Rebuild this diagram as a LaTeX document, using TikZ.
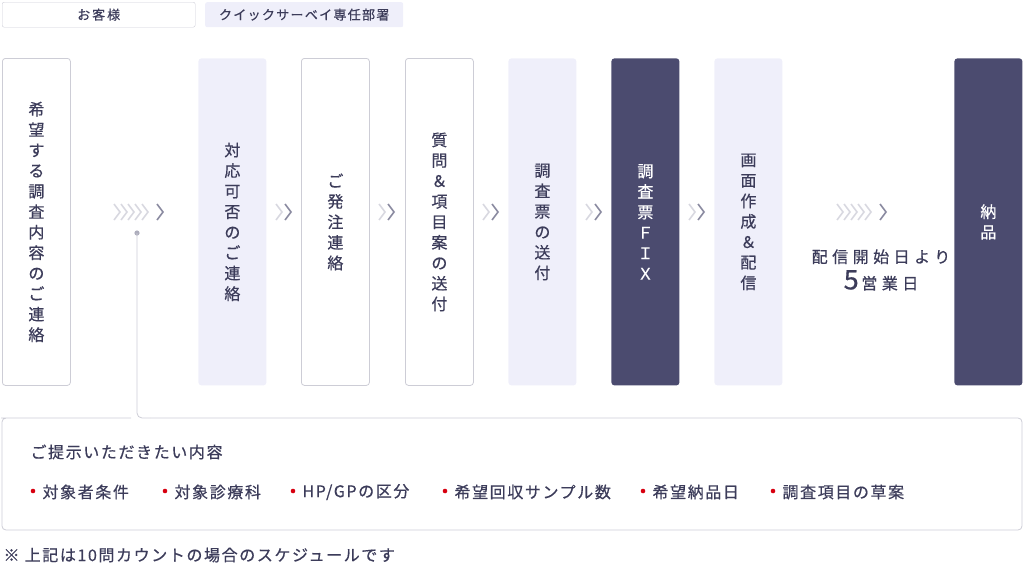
\documentclass[tikz,border=0pt]{standalone}
\usepackage{fontspec}
\setmainfont{Noto Sans CJK JP}[FakeBold=0.6,LetterSpace=10]
\begin{document}
\begin{tikzpicture}[x=1pt,y=-1pt,
  txt/.style={text=ink,font=\fontsize{16}{20.5}\selectfont},
  wbox/.style={draw=edge,fill=white,rounded corners=3pt,line width=0.8pt,minimum width=68pt,minimum height=327pt,anchor=north west,txt,align=center},
  lbox/.style={wbox,draw=none,fill=lav},
  dbox/.style={wbox,draw=none,fill=dark,text=white},
  ch/.style={line width=1.6pt}]
\definecolor{ink}{HTML}{3C3C5A}
\definecolor{edge}{HTML}{CDCDD6}
\definecolor{lav}{HTML}{EFEFFA}
\definecolor{dark}{HTML}{4B4B6F}
\definecolor{chl}{HTML}{D8D8E0}
\definecolor{chd}{HTML}{8A8AA0}
\definecolor{bred}{HTML}{D7000F}
\useasboundingbox (0,0) rectangle (1024,565);
\newcommand{\chv}[2]{\draw[ch,#2] (#1,204) -- ++(6,8) -- ++(-6,8);}
% legend
\node[draw=edge,rounded corners=2pt,minimum width=193pt,minimum height=25pt,anchor=north west,txt,font=\fontsize{13}{15}\selectfont\addfontfeature{LetterSpace=15}] (lg1) at (2,2) {お客様};
\node[fill=lav,rounded corners=2pt,minimum width=198pt,minimum height=25pt,anchor=north west,txt,font=\fontsize{13}{15}\selectfont] (lg2) at (205,2) {クイックサーベイ専任部署};
% boxes
\node[wbox] (b1) at (2,58) {希\\望\\す\\る\\調\\査\\内\\容\\の\\ご\\連\\絡};
\node[lbox] (b2) at (198,58) {対\\応\\可\\否\\の\\ご\\連\\絡};
\node[wbox] (b3) at (301,58) {ご\\発\\注\\連\\絡};
\node[wbox] (b4) at (405,58) {質\\問\\＆\\項\\目\\案\\の\\送\\付};
\node[lbox] (b5) at (508,58) {調\\査\\票\\の\\送\\付};
\node[dbox] (b6) at (611,58) {調\\査\\票\\Ｆ\\Ｉ\\Ｘ};
\node[lbox] (b7) at (714,58) {画\\面\\作\\成\\＆\\配\\信};
\node[dbox] (b8) at (954,58) {納\\品};
\node[txt,align=center,font=\fontsize{16}{20}\selectfont\addfontfeature{LetterSpace=28}] (lead) at (881,270) {配信開始日より\\[5pt]{\fontsize{27}{28}\selectfont 5}\,営業日};
% chevrons
\foreach \x in {114,121,128,135,142} {\chv{\x}{chl}}
\chv{157}{chd}
\foreach \x in {837,844,851,858,865} {\chv{\x}{chl}}
\chv{880}{chd}
\foreach \x in {276,379,483,586,689} {\chv{\x}{chl}\chv{\x+9}{chd}}
% bottom box
\draw[edge,line width=0.8pt,rounded corners=4pt] (131,418) -- (5,418) -- (2,418) -- (2,530) -- (1022,530) -- (1022,418) -- (150,418);
\coordinate (dot) at (137,233);
\fill[chd!70] (dot) circle (2.6pt);
\draw[edge,line width=0.8pt,rounded corners=5pt] (dot) -- (137,418) -- (150,418);
\node[txt,anchor=west] (t1) at (27,452) {ご提示いただきたい内容};
\foreach \x/\s [count=\i] in {30/{対象者条件},162/{対象診療科},290/{HP/GPの区分},442/{希望回収サンプル数},640/{希望納品日},770/{調査項目の草案}}{
  \fill[bred] (\x+3,491) circle (2.3pt);
  \node[txt,anchor=west] (it\i) at (\x+9,492) {\s};}
\node[txt,anchor=west] (fn) at (0,555) {※ 上記は10問カウントの場合のスケジュールです};
\end{tikzpicture}
\end{document}
